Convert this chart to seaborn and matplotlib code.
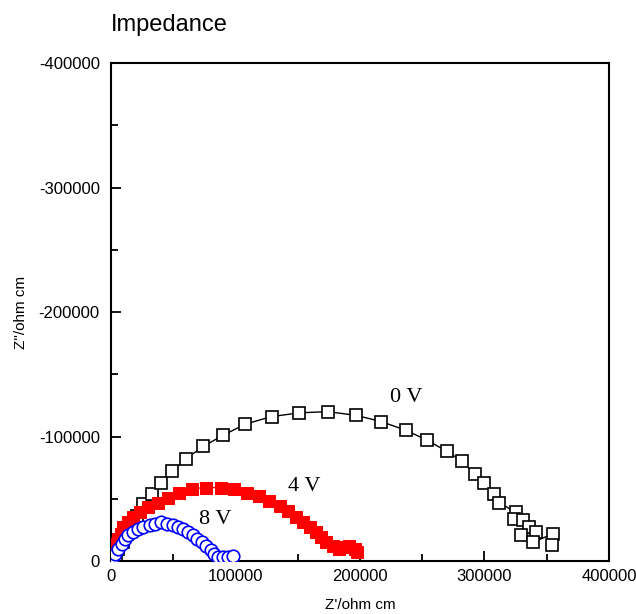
import pandas as pd
import matplotlib
matplotlib.use('Agg')
import matplotlib.pyplot as plt
from matplotlib.ticker import MultipleLocator
import seaborn as sns

zre_0v = [2000, 4000, 6000, 10000, 13000, 17000, 21000, 26000, 33000, 40000, 49000, 60000,
          74000, 90000, 108000, 129000, 151000, 174000, 197000, 217000, 237000, 254000,
          270000, 282000, 292000, 300000, 308000, 312000, 325000, 324000, 331000, 336000,
          329000, 341000, 339000, 355000, 354000]
zim_0v = [-1000, -5000, -10000, -15000, -22000, -29000, -36000, -46000, -54000, -63000, -72000, -82000,
          -92000, -101000, -110000, -116000, -119000, -120000, -117000, -112000, -105000, -97000,
          -88000, -80000, -70000, -63000, -54000, -47000, -39000, -34000, -33000, -27000,
          -21000, -23000, -15000, -22000, -13000]

zre_4v = [1000, 1000, 2000, 4000, 6000, 8000, 10000, 14000, 18000, 23000, 30000, 38000, 46000,
          55000, 65000, 76000, 88000, 99000, 109000, 119000, 127000, 136000, 142000, 149000,
          154000, 160000, 165000, 169000, 173000, 178000, 183000, 187000, 191000, 196000, 198000]
zim_4v = [-2000, -6000, -10000, -14000, -18000, -22000, -27000, -31000, -35000, -39000, -43000, -47000, -51000,
          -55000, -58000, -59000, -59000, -58000, -55000, -52000, -48000, -44000, -40000, -35000,
          -31000, -27000, -23000, -19000, -15000, -12000, -10000, -11000, -12000, -10000, -7000]

zre_8v = [1000, 3000, 6000, 9000, 11000, 14000, 18000, 22000, 26000, 31000, 35000, 40000, 45000,
          50000, 54000, 58000, 62000, 66000, 69000, 73000, 76000, 80000, 83000, 86000, 90000,
          94000, 98000]
zim_8v = [-2000, -6000, -10000, -14000, -18000, -21000, -23000, -26000, -27000, -29000, -30000, -31000, -30000,
          -29000, -27000, -26000, -23000, -21000, -18000, -15000, -12000, -9000, -6000, -3000, -3000,
          -3000, -4000]

plt.rcParams['font.family'] = ['Liberation Sans', 'DejaVu Sans']
plt.rcParams['axes.unicode_minus'] = False

fig = plt.figure(figsize=(6.36, 6.14), dpi=100)
ax = fig.add_axes([0.1745, 0.0863, 0.783, 0.811])

df0 = pd.DataFrame({'re': zre_0v, 'im': zim_0v})
df4 = pd.DataFrame({'re': zre_4v, 'im': zim_4v})
df8 = pd.DataFrame({'re': zre_8v, 'im': zim_8v})

sns.lineplot(data=df0, x='re', y='im', sort=False, estimator=None, ax=ax, color='black', lw=1,
             marker='s', markersize=8.5, markerfacecolor='white', markeredgecolor='black',
             markeredgewidth=1.2, zorder=2)
sns.lineplot(data=df4, x='re', y='im', sort=False, estimator=None, ax=ax, color='red', lw=1,
             marker='s', markersize=8, markerfacecolor='red', markeredgecolor='red', zorder=3)
sns.lineplot(data=df8, x='re', y='im', sort=False, estimator=None, ax=ax, color='blue', lw=1,
             marker='o', markersize=9, markerfacecolor='white', markeredgecolor='blue',
             markeredgewidth=1.2, zorder=4)

ax.text(237000, -131000, '0 V', family='Liberation Serif', fontsize=16, ha='center', va='center')
ax.text(155000, -59500, '4 V', family='Liberation Serif', fontsize=16, ha='center', va='center')
ax.text(84000, -33000, '8 V', family='Liberation Serif', fontsize=16, ha='center', va='center')

ax.set_xlim(0, 400000)
ax.set_ylim(0, -400000)
ax.xaxis.set_major_locator(MultipleLocator(100000))
ax.xaxis.set_minor_locator(MultipleLocator(50000))
ax.yaxis.set_major_locator(MultipleLocator(100000))
ax.yaxis.set_minor_locator(MultipleLocator(50000))
ax.tick_params(which='both', direction='in', top=False, right=False, width=1.3, labelsize=12)
ax.tick_params(which='major', length=7)
ax.tick_params(which='minor', length=5)
ax.tick_params(axis='x', pad=6)
ax.tick_params(axis='y', pad=8)
for s in ax.spines.values():
    s.set_linewidth(1.5)

ax.set_xlabel("Z'/ohm cm", fontsize=11, labelpad=10)
ax.set_ylabel('Z"/ohm cm', fontsize=11, labelpad=8)
ax.set_title('Impedance', loc='left', fontsize=17, pad=23)

fig.savefig('out.png', dpi=100)
